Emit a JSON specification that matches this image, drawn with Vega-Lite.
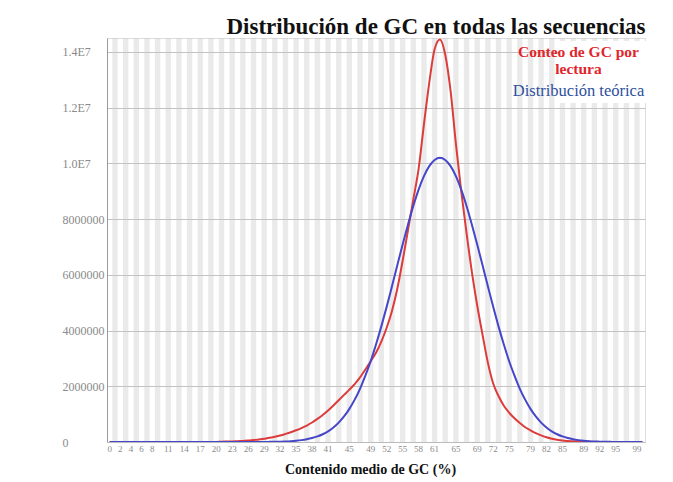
{
  "$schema": "https://vega.github.io/schema/vega-lite/v6.json",
  "width": 538,
  "height": 404,
  "autosize": {"type": "none"},
  "padding": {"left": 107, "top": 38, "right": 28, "bottom": 40},
  "background": "white",
  "title": {"text": "Distribución de GC en todas las secuencias", "font": "Liberation Serif", "fontSize": 23, "fontWeight": "bold", "color": "#111111", "anchor": "middle", "frame": "group", "dx": 60, "offset": -27, "baseline": "bottom"},
  "data": {"values": [
    {"gc":0,"conteo":0,"teorica":0},{"gc":1,"conteo":0,"teorica":0},{"gc":2,"conteo":0,"teorica":0},{"gc":3,"conteo":0,"teorica":0},{"gc":4,"conteo":0,"teorica":0},
    {"gc":5,"conteo":0,"teorica":0},{"gc":6,"conteo":0,"teorica":0},{"gc":7,"conteo":0,"teorica":0},{"gc":8,"conteo":0,"teorica":0},{"gc":9,"conteo":0,"teorica":0},
    {"gc":10,"conteo":0,"teorica":0},{"gc":11,"conteo":0,"teorica":0},{"gc":12,"conteo":0,"teorica":0},{"gc":13,"conteo":0,"teorica":0},{"gc":14,"conteo":0,"teorica":0},
    {"gc":15,"conteo":0,"teorica":0},{"gc":16,"conteo":0,"teorica":0},{"gc":17,"conteo":0,"teorica":0},{"gc":18,"conteo":0,"teorica":0},{"gc":19,"conteo":0,"teorica":0},
    {"gc":20,"conteo":0,"teorica":0},{"gc":21,"conteo":10000,"teorica":0},{"gc":22,"conteo":15000,"teorica":0},{"gc":23,"conteo":20000,"teorica":0},{"gc":24,"conteo":30000,"teorica":0},
    {"gc":25,"conteo":40000,"teorica":0},{"gc":26,"conteo":50000,"teorica":0},{"gc":27,"conteo":70000,"teorica":0},{"gc":28,"conteo":90000,"teorica":0},{"gc":29,"conteo":120000,"teorica":0},
    {"gc":30,"conteo":150000,"teorica":5000},{"gc":31,"conteo":190000,"teorica":8000},{"gc":32,"conteo":235000,"teorica":13000},{"gc":33,"conteo":290000,"teorica":20000},{"gc":34,"conteo":350000,"teorica":30000},
    {"gc":35,"conteo":420000,"teorica":45000},{"gc":36,"conteo":500000,"teorica":67000},{"gc":37,"conteo":590000,"teorica":98000},{"gc":38,"conteo":700000,"teorica":141000},{"gc":39,"conteo":830000,"teorica":200000},
    {"gc":40,"conteo":970000,"teorica":279000},{"gc":41,"conteo":1130000,"teorica":384000},{"gc":42,"conteo":1310000,"teorica":521000},{"gc":43,"conteo":1500000,"teorica":697000},{"gc":44,"conteo":1690000,"teorica":917000},
    {"gc":45,"conteo":1880000,"teorica":1190000},{"gc":46,"conteo":2080000,"teorica":1520000},{"gc":47,"conteo":2320000,"teorica":1910000},{"gc":48,"conteo":2600000,"teorica":2380000},{"gc":49,"conteo":2900000,"teorica":2900000},
    {"gc":50,"conteo":3200000,"teorica":3500000},{"gc":51,"conteo":3600000,"teorica":4150000},{"gc":52,"conteo":4100000,"teorica":4850000},{"gc":53,"conteo":4700000,"teorica":5590000},{"gc":54,"conteo":5500000,"teorica":6340000},
    {"gc":55,"conteo":6500000,"teorica":7090000},{"gc":56,"conteo":7600000,"teorica":7800000},{"gc":57,"conteo":8700000,"teorica":8470000},{"gc":58,"conteo":9800000,"teorica":9060000},{"gc":59,"conteo":11400000,"teorica":9540000},
    {"gc":60,"conteo":12900000,"teorica":9900000},{"gc":61,"conteo":14100000,"teorica":10120000},{"gc":62,"conteo":14450000,"teorica":10200000},{"gc":63,"conteo":13900000,"teorica":10120000},{"gc":64,"conteo":12600000,"teorica":9900000},
    {"gc":65,"conteo":10700000,"teorica":9540000},{"gc":66,"conteo":9000000,"teorica":9060000},{"gc":67,"conteo":7500000,"teorica":8470000},{"gc":68,"conteo":6100000,"teorica":7800000},{"gc":69,"conteo":4900000,"teorica":7090000},
    {"gc":70,"conteo":3850000,"teorica":6340000},{"gc":71,"conteo":2850000,"teorica":5590000},{"gc":72,"conteo":2100000,"teorica":4850000},{"gc":73,"conteo":1650000,"teorica":4150000},{"gc":74,"conteo":1300000,"teorica":3500000},
    {"gc":75,"conteo":1050000,"teorica":2900000},{"gc":76,"conteo":850000,"teorica":2380000},{"gc":77,"conteo":680000,"teorica":1910000},{"gc":78,"conteo":530000,"teorica":1520000},{"gc":79,"conteo":420000,"teorica":1190000},
    {"gc":80,"conteo":320000,"teorica":917000},{"gc":81,"conteo":240000,"teorica":697000},{"gc":82,"conteo":170000,"teorica":521000},{"gc":83,"conteo":120000,"teorica":384000},{"gc":84,"conteo":80000,"teorica":279000},
    {"gc":85,"conteo":50000,"teorica":200000},{"gc":86,"conteo":35000,"teorica":141000},{"gc":87,"conteo":25000,"teorica":98000},{"gc":88,"conteo":15000,"teorica":67000},{"gc":89,"conteo":10000,"teorica":45000},
    {"gc":90,"conteo":6000,"teorica":30000},{"gc":91,"conteo":3000,"teorica":20000},{"gc":92,"conteo":3000,"teorica":13000},{"gc":93,"conteo":0,"teorica":8000},{"gc":94,"conteo":0,"teorica":5000},
    {"gc":95,"conteo":0,"teorica":0},{"gc":96,"conteo":0,"teorica":0},{"gc":97,"conteo":0,"teorica":0},{"gc":98,"conteo":0,"teorica":0},{"gc":99,"conteo":0,"teorica":0},
    {"gc":100,"conteo":0,"teorica":0}
  ]},
  "encoding": {
    "x": {
      "field": "gc", "type": "ordinal", "sort": "ascending",
      "scale": {"type": "band", "paddingInner": 0, "paddingOuter": 0},
      "axis": {
        "values": [0,2,4,6,8,11,14,17,20,23,26,29,32,35,38,41,45,49,52,55,58,61,65,69,72,75,79,82,85,89,92,95,99],
        "labelAngle": 0, "ticks": false, "tickSize": 0, "labelPadding": 2,
        "labelFont": "Liberation Serif", "labelFontSize": 9, "labelColor": "#8a8a8a",
        "domainColor": "#bbbbbb",
        "title": "Contenido medio de GC (%)", "titleFont": "Liberation Serif", "titleFontSize": 14, "titleFontWeight": "bold", "titleColor": "#111111", "titlePadding": 9, "titleX": 263
      }
    }
  },
  "layer": [
    {
      "mark": {"type": "rect"},
      "encoding": {
        "color": {"value": "#c4c4c4"},
        "opacity": {"condition": {"test": "datum.gc % 2 === 1", "value": 0.36}, "value": 0}
      }
    },
    {
      "transform": [{"fold": ["conteo", "teorica"], "as": ["serie", "valor"]}],
      "mark": {"type": "line", "strokeWidth": 2, "interpolate": "monotone"},
      "encoding": {
        "y": {
          "field": "valor", "type": "quantitative",
          "scale": {"domain": [0, 14500000], "nice": false},
          "axis": {
            "values": [0,2000000,4000000,6000000,8000000,10000000,12000000,14000000],
            "title": null,
            "labelExpr": "datum.value >= 10000000 ? format(datum.value/10000000, '.1f') + 'E7' : format(datum.value, 'd')",
            "labelAlign": "left", "labelPadding": 45, "ticks": false, "tickSize": 0,
            "grid": true, "gridColor": "#c2c2c2", "gridWidth": 1,
            "domainColor": "#9a9a9a",
            "labelFont": "Liberation Serif", "labelFontSize": 12, "labelColor": "#8a8a8a"
          }
        },
        "color": {
          "field": "serie", "type": "nominal",
          "scale": {"domain": ["conteo", "teorica"], "range": ["#dc3c3c", "#4646c8"]},
          "legend": {
            "orient": "none", "legendX": 452, "legendY": 3,
            "title": null, "symbolOpacity": 0, "symbolSize": 1, "symbolStrokeWidth": 0,
            "labelOffset": 0, "labelAlign": "center", "labelLimit": 300,
            "labelFont": "Liberation Serif", "labelFontSize": 15.5, "labelFontWeight": "bold",
            "fillColor": "white", "padding": 3, "rowPadding": 5,
            "labelExpr": "datum.value === 'conteo' ? ['Conteo de GC por', 'lectura'] : 'Distribución teórica'",
            "encode": {
              "labels": {"update": {
                "fill": {"signal": "datum.value === 'conteo' ? '#e0262c' : '#2e4f9e'"},
                "fontWeight": {"signal": "datum.value === 'conteo' ? 'bold' : 'normal'"},
                "fontSize": {"signal": "datum.value === 'conteo' ? 15.5 : 16.5"},
                "lineHeight": {"value": 17}
              }}
            }
          }
        }
      }
    }
  ]
}
